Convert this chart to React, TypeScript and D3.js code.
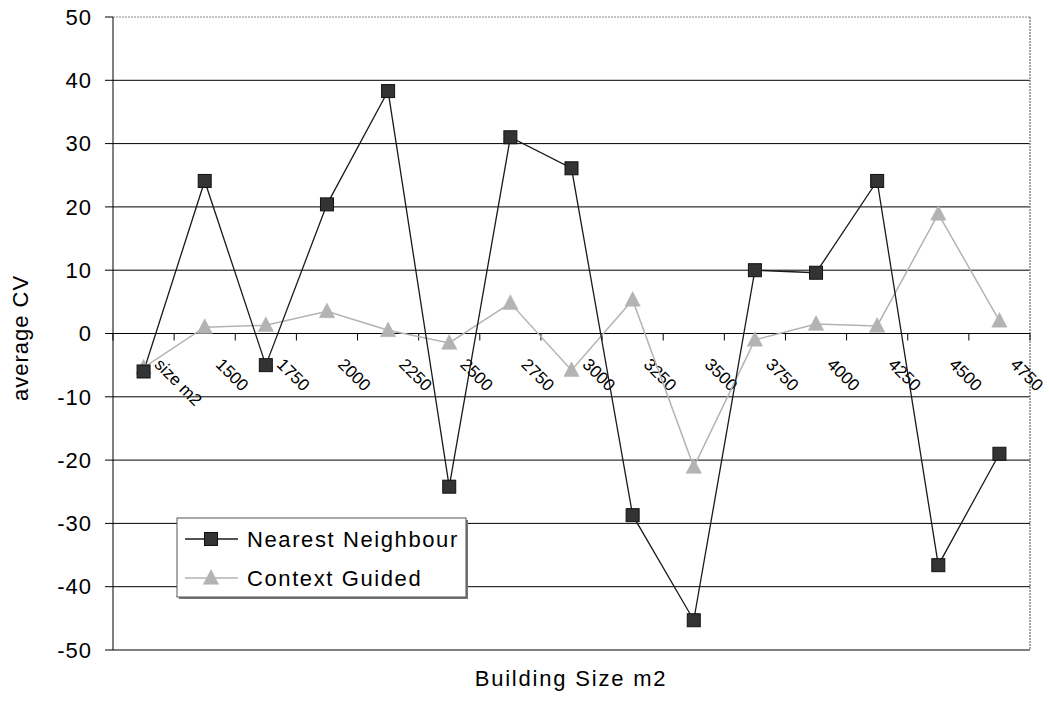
import React from "react";
import * as d3 from "d3";

const categories = ["size m2", "1500", "1750", "2000", "2250", "2500", "2750", "3000", "3250", "3500", "3750", "4000", "4250", "4500", "4750"];
const nearestNeighbour = [-6.0, 24.1, -5.0, 20.4, 38.3, -24.2, 31.0, 26.1, -28.7, -45.3, 10.0, 9.6, 24.1, -36.6, -19.0];
const contextGuided = [-5.4, 1.0, 1.3, 3.5, 0.5, -1.5, 4.8, -5.8, 5.3, -21.1, -1.0, 1.5, 1.2, 18.9, 2.0];
const yTicks = [50, 40, 30, 20, 10, 0, -10, -20, -30, -40, -50];

const W = 1049;
const H = 710;
const left = 113;
const right = 1030;
const top = 17;
const bottom = 650;
const FONT = "Arial, 'Liberation Sans', sans-serif";

export default function App() {
  const x = d3.scaleBand<string>().domain(categories).range([left, right]).padding(0);
  const y = d3.scaleLinear().domain([-50, 50]).range([bottom, top]);
  const cx = (c: string) => (x(c) as number) + x.bandwidth() / 2;
  const line = d3
    .line<number>()
    .x((_, i) => cx(categories[i]))
    .y((d) => y(d));
  const y0 = y(0);
  const tri = (px: number, py: number, s: number) =>
    `M${px},${py - s * 0.6} L${px + s * 0.55},${py + s * 0.45} L${px - s * 0.55},${py + s * 0.45} Z`;

  const legX = 177;
  const legY = 518;
  const legW = 289;
  const legH = 79;

  return (
    <svg width={W} height={H} style={{ position: "absolute", left: 0, top: 0, background: "#fff" }} fontFamily={FONT}>
      <rect x={0} y={0} width={W} height={H} fill="#fff" />
      {/* gridlines */}
      {yTicks.map((t) =>
        t === 50 ? (
          <line key={t} x1={left} x2={right} y1={y(t)} y2={y(t)} stroke="#888" strokeWidth={1} strokeDasharray="2,1" />
        ) : (
          <line key={t} x1={left} x2={right} y1={y(t)} y2={y(t)} stroke="#000" strokeWidth={1} />
        )
      )}
      {/* right border */}
      <line x1={right} x2={right} y1={top} y2={bottom} stroke="#888" strokeWidth={1.5} strokeDasharray="2,1" />
      {/* y axis */}
      <line x1={left} x2={left} y1={top} y2={bottom} stroke="#000" strokeWidth={1} />
      {yTicks.map((t) => (
        <g key={"yt" + t}>
          <line x1={left - 8} x2={left} y1={y(t)} y2={y(t)} stroke="#000" strokeWidth={1} />
          <text x={92} y={y(t)} dy="0.35em" textAnchor="end" fontSize={22} letterSpacing="1px" fill="#000">
            {t}
          </text>
        </g>
      ))}
      {/* x axis at 0 */}
      <line x1={left} x2={right} y1={y0} y2={y0} stroke="#000" strokeWidth={1} />
      {categories.map((c) => (
        <line key={"xt" + c} x1={x(c) as number} x2={x(c) as number} y1={y0} y2={y0 + 7} stroke="#000" strokeWidth={1} />
      ))}
      <line x1={right} x2={right} y1={y0} y2={y0 + 7} stroke="#000" strokeWidth={1} />
      {categories.map((c) => (
        <text
          key={"xl" + c}
          transform={`translate(${cx(c) + 10},${y0 + 32}) rotate(45)`}
          fontSize={17}
          fill="#000"
        >
          {c}
        </text>
      ))}
      {/* series */}
      <path d={line(contextGuided) || ""} fill="none" stroke="#b3b3b3" strokeWidth={1.5} />
      <path d={line(nearestNeighbour) || ""} fill="none" stroke="#1a1a1a" strokeWidth={1.3} />
      {contextGuided.map((v, i) => (
        <path key={"cg" + i} d={tri(cx(categories[i]), y(v), 14)} fill="#b3b3b3" stroke="#b3b3b3" strokeWidth={0.5} />
      ))}
      {nearestNeighbour.map((v, i) => (
        <rect key={"nn" + i} x={cx(categories[i]) - 6.5} y={y(v) - 6.5} width={13} height={13} fill="#333" stroke="#111" strokeWidth={1} />
      ))}
      {/* legend */}
      <rect x={legX + 2} y={legY + 2} width={legW} height={legH} fill="#777" />
      <rect x={legX} y={legY} width={legW} height={legH} fill="#fff" stroke="#555" strokeWidth={1} />
      <line x1={185} x2={238} y1={539} y2={539} stroke="#1a1a1a" strokeWidth={1.3} />
      <rect x={211 - 6.5} y={539 - 6.5} width={13} height={13} fill="#333" stroke="#111" strokeWidth={1} />
      <text x={247} y={539} dy="0.35em" fontSize={22} letterSpacing="1.6px" fill="#000">
        Nearest Neighbour
      </text>
      <line x1={185} x2={238} y1={578} y2={578} stroke="#b3b3b3" strokeWidth={1.5} />
      <path d={tri(211, 578, 14)} fill="#b3b3b3" stroke="#b3b3b3" strokeWidth={0.5} />
      <text x={247} y={578} dy="0.35em" fontSize={22} letterSpacing="1.6px" fill="#000">
        Context Guided
      </text>
      {/* axis titles */}
      <text transform={`translate(28,338) rotate(-90)`} textAnchor="middle" fontSize={22} letterSpacing="1px" fill="#000">
        average CV
      </text>
      <text x={571} y={686} textAnchor="middle" fontSize={22} letterSpacing="1.8px" fill="#000">
        Building Size m2
      </text>
    </svg>
  );
}
